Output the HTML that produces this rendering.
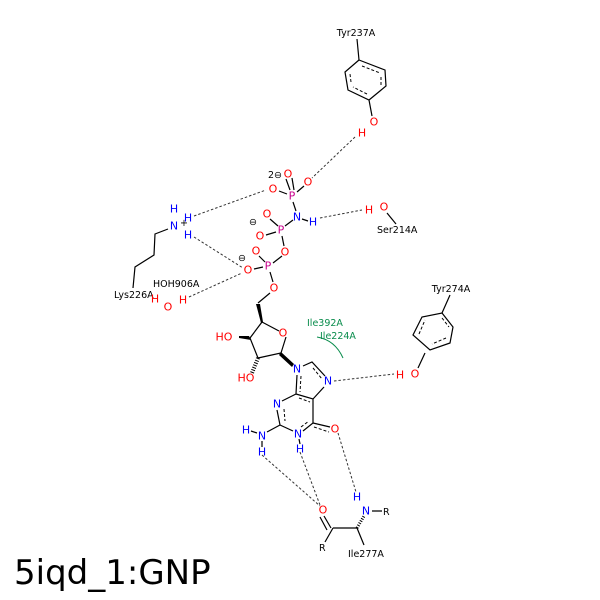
<!DOCTYPE html>
<html><head><style>
html,body{margin:0;padding:0;background:#fff;}
svg{display:block;}
text{font-family:"DejaVu Sans","Liberation Sans",sans-serif;}
.l{font-size:9.5px;fill:#000;}
.a{font-size:11px;text-anchor:middle;dominant-baseline:central;}
.O{fill:#f00}.N{fill:#00f}.P{fill:#c8008c}
.b{stroke:#000;stroke-width:1.2;fill:none}
.d{stroke:#000;stroke-width:1;stroke-dasharray:3,2;fill:none}
.h{stroke:#333;stroke-width:1;stroke-dasharray:2.5,2;fill:none}
</style></head><body>
<svg width="600" height="600" viewBox="0 0 600 600" xmlns="http://www.w3.org/2000/svg">
<rect width="600" height="600" fill="#fff"/>
<!-- Tyr237A -->
<text class="l" x="356" y="36" text-anchor="middle">Tyr237A</text>
<path class="b" d="M357,39 L359,60"/>
<path class="b" d="M359,60 L385,70 L386,86 L369,100 L348,90 L345,72 Z M369,100 L372,116"/>
<path class="d" d="M362,66 L380,73 M381,77 L381,86 M367,94 L353,87 M351,82 L350,74"/>
<text class="a O" x="374" y="122">O</text>
<text class="a O" x="362" y="133">H</text>
<!-- phosphates -->
<text class="a P" x="292" y="196">P</text>
<text class="a O" x="288" y="174">O</text>
<text class="a O" x="308" y="182">O</text>
<text class="a O" x="273" y="189">O</text>
<text class="l" x="268" y="178">2⊖</text>
<path class="b" d="M286,179 L290,190 M292,178 L294,190 M297,192 L304,186 M279,191 L287,194"/>
<text class="a N" x="297" y="217">N</text>
<text class="a N" x="313" y="222">H</text>
<path class="b" d="M293,202 L296,211 M302,219 L308,221 M293,220 L285,226"/>
<text class="a P" x="281" y="230">P</text>
<text class="a O" x="267" y="214">O</text>
<text class="a O" x="260" y="236">O</text>
<text class="l" x="249" y="225">⊖</text>
<path class="b" d="M270,219 L278,226 M266,235 L276,232"/>
<text class="a O" x="285" y="252">O</text>
<path class="b" d="M282,236 L284,246 M282,256 L273,263"/>
<text class="a P" x="268" y="266">P</text>
<text class="a O" x="256" y="251">O</text>
<text class="a O" x="248" y="270">O</text>
<text class="l" x="238" y="261">⊖</text>
<path class="b" d="M259,256 L265,262 M254,269 L263,267"/>
<text class="a O" x="274" y="288">O</text>
<path class="b" d="M270,272 L273,282 M270,293 L258,303"/>
<!-- Lys226A -->
<text class="a N" x="174" y="226">N</text>
<text class="a N" x="174" y="209">H</text>
<text class="a N" x="188" y="218">H</text>
<text class="a N" x="188" y="235">H</text>
<text class="l" x="180" y="226" font-size="9">+</text>
<path class="b" d="M168,229 L155,234 L154,255 L135,267 L133,288"/>
<text class="l" x="114" y="298">Lys226A</text>
<!-- HOH -->
<text class="l" x="153" y="287">HOH906A</text>
<text class="a O" x="155" y="299">H</text>
<text class="a O" x="168" y="307">O</text>
<text class="a O" x="183" y="300">H</text>
<!-- Ser214A -->
<text class="a O" x="369" y="210">H</text>
<text class="a O" x="384" y="207">O</text>
<path class="b" d="M387,213 L396,224"/>
<text class="l" x="377" y="233">Ser214A</text>
<!-- H-bonds -->
<path class="h" d="M355,137 L312,178 M194,216 L266,190 M194,237 L243,268 M189,297 L242,273 M320,218 L362,210 M334,381 L394,374 M262,455 L320,506 M300,452 L320,505 M338,433 L356,492"/>
<!-- sugar -->
<polygon points="256,304 260,304 263,322 261,323" fill="#000"/>
<path class="b" d="M262,322 L279,331 M286,337 L281,353 L258,358 L250,338 L262,322"/>
<text class="a O" x="283" y="333">O</text>
<polygon points="249,336 251,340 239,338 239,336" fill="#000"/>
<text class="a O" x="224" y="337">HO</text>
<path d="M258,358 L252,373" stroke="#000" stroke-width="4" stroke-dasharray="1,1.5" fill="none"/>
<text class="a O" x="246" y="378">HO</text>
<polygon points="281,352 279,355 292,367 294,364" fill="#000"/>
<!-- purine -->
<text class="a N" x="297" y="369">N</text>
<text class="a N" x="328" y="381">N</text>
<text class="a N" x="277" y="404">N</text>
<text class="a N" x="298" y="434">N</text>
<text class="a N" x="300" y="449">H</text>
<text class="a N" x="262" y="436">N</text>
<text class="a N" x="246" y="430">H</text>
<text class="a N" x="262" y="452">H</text>
<text class="a O" x="335" y="429">O</text>
<path class="b" d="M303,366 L312,362 L325,376 M324,387 L313,399 L296,394 L297,375 M296,394 L282,401 M277,410 L280,425 L293,431 M303,431 L313,423 L313,399 M280,425 L267,432 M251,431 L257,433 M262,441 L262,447 M299,439 L300,444 M313,423 L330,427"/>
<path class="d" d="M313,368 L322,379 M299,398 L310,402 M284,409 L285,421 M301,427 L309,421 M301,376 L300,392 M314,427 L329,432"/>
<!-- Ile277A -->
<text class="a O" x="323" y="510">O</text>
<text class="a N" x="366" y="511">N</text>
<text class="a N" x="357" y="497">H</text>
<text class="l" x="383" y="515">R</text>
<text class="l" x="319" y="551">R</text>
<text class="l" x="348" y="557">Ile277A</text>
<path class="b" d="M324,516 L331,528 M320,517 L327,530 M333,528 L357,528 L364,545 M333,528 L325,542 M372,511 L382,511"/>
<path d="M357,528 L364,516" stroke="#000" stroke-width="3" stroke-dasharray="1,1.5" fill="none"/>
<!-- Tyr274A -->
<text class="l" x="451" y="292" text-anchor="middle">Tyr274A</text>
<path class="b" d="M450,295 L442,313"/>
<path class="b" d="M442,313 L453,327 L450,343 L430,350 L413,335 L422,317 Z M425,353 L418,368"/>
<path class="d" d="M442,318 L449,327 M446,338 L432,344 M419,334 L425,320"/>
<text class="a O" x="415" y="374">O</text>
<text class="a O" x="400" y="375">H</text>
<!-- hydrophobic -->
<text class="l" x="307" y="326" style="fill:#098c4c">Ile392A</text>
<text class="l" x="320" y="339" style="fill:#098c4c">Ile224A</text>
<path d="M317,337 Q335,340 343,358" stroke="#098c4c" stroke-width="1" fill="none"/>
<text x="14" y="584" font-size="34" style="font-family:'DejaVu Sans','Liberation Sans',sans-serif">5iqd_1:GNP</text>
</svg>
</body></html>
